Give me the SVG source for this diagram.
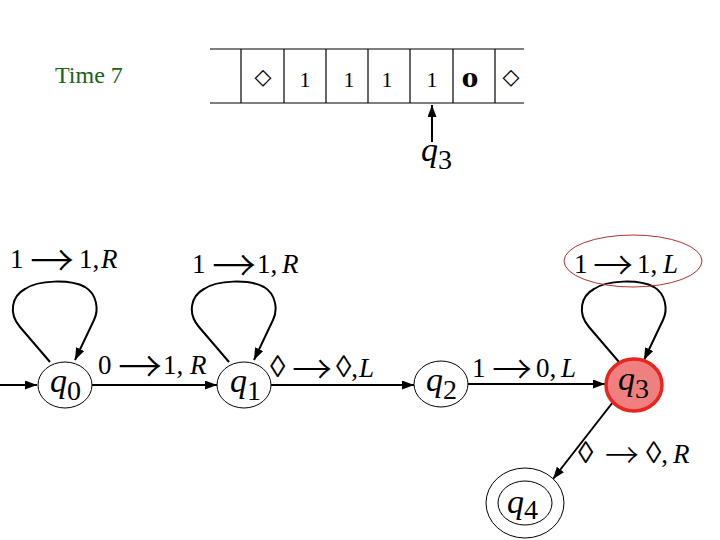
<svg xmlns="http://www.w3.org/2000/svg" width="720" height="540" viewBox="0 0 720 540">
<style>
.lbl{font-family:"Liberation Serif","Times New Roman",serif;font-size:27px;fill:#000}
.it{font-style:italic}
.ar{font-family:"Noto Sans CJK SC",sans-serif;font-size:44px;font-weight:300}
.ar2{font-family:"Noto Sans CJK SC",sans-serif;font-size:40px;font-weight:300}
.ar3{font-family:"Noto Sans CJK SC",sans-serif;font-size:34px;font-weight:300}
.lz{font-size:31px}
.st{font-family:"Liberation Serif","Times New Roman",serif;font-size:34px;font-style:italic;fill:#000}
.sub{font-style:normal;font-size:28px}
.cell{font-family:"Liberation Serif","Times New Roman",serif;font-size:22px;fill:#000;text-anchor:middle}
.dia{font-family:"DejaVu Sans",sans-serif;font-size:22px;fill:#000;text-anchor:middle}
.edge{fill:none;stroke:#000;stroke-width:2}
.node{fill:#fff;stroke:#000;stroke-width:1}
</style>
<defs>
<marker id="ah" markerUnits="userSpaceOnUse" markerWidth="13" markerHeight="10" refX="12" refY="4.5" orient="auto">
<path d="M0,0 L12,4.5 L0,9 z" fill="#000"/>
</marker>
</defs>
<rect width="720" height="540" fill="#fff"/>

<g id="title">
<text x="55" y="83" font-family="Liberation Serif,Times New Roman,serif" font-size="24" fill="#206020">Time 7</text>
</g>

<g id="tape" stroke="#000" stroke-width="1.2">
<line x1="210" y1="49" x2="524" y2="49"/>
<line x1="210" y1="103" x2="524" y2="103"/>
<line x1="241" y1="49" x2="241" y2="103"/>
<line x1="284" y1="49" x2="284" y2="103"/>
<line x1="326" y1="49" x2="326" y2="103"/>
<line x1="368" y1="49" x2="368" y2="103"/>
<line x1="410" y1="49" x2="410" y2="103"/>
<line x1="453" y1="49" x2="453" y2="103"/>
<line x1="495" y1="49" x2="495" y2="103"/>
</g>
<g id="tape-cells">
<text class="dia" x="263" y="84">◇</text>
<text class="cell" x="305" y="87">1</text>
<text class="cell" x="349" y="87">1</text>
<text class="cell" x="387" y="87">1</text>
<text class="cell" x="432" y="87">1</text>
<text class="cell" x="470" y="87" font-weight="bold" textLength="17" lengthAdjust="spacingAndGlyphs">0</text>
<text class="dia" x="511" y="84">◇</text>
</g>
<g id="head">
<line class="edge" x1="432" y1="142" x2="432" y2="105" marker-end="url(#ah)"/>
<text class="st" x="421" y="161">q<tspan class="sub" dy="8">3</tspan></text>
</g>

<g id="connectors">
<line class="edge" x1="0" y1="385" x2="37" y2="385" marker-end="url(#ah)"/>
<line class="edge" x1="92" y1="385" x2="217" y2="385" marker-end="url(#ah)"/>
<line class="edge" x1="271" y1="385" x2="414" y2="385" marker-end="url(#ah)"/>
<line class="edge" x1="468" y1="384" x2="605" y2="384" marker-end="url(#ah)"/>
<line class="edge" x1="613" y1="402" x2="553" y2="479" marker-end="url(#ah)"/>
<path class="edge" d="M50,362 L20,327 C8,313 12,296 25,289 C38,280 70,279 85,287 C97,294 99,310 94,320 L75,360" marker-end="url(#ah)"/>
<path class="edge" transform="translate(179,0)" d="M50,362 L20,327 C8,313 12,296 25,289 C38,280 70,279 85,287 C97,294 99,310 94,320 L75,360" marker-end="url(#ah)"/>
<path class="edge" transform="translate(569,0)" d="M50,362 L20,327 C8,313 12,296 25,289 C38,280 70,279 85,287 C97,294 99,310 94,320 L75,360" marker-end="url(#ah)"/>
</g>

<g id="labels">
<text class="lbl" y="268"><tspan x="10">1</tspan><tspan x="30" class="ar" dy="9">→</tspan><tspan x="79" dy="-9">1,</tspan><tspan x="101" class="it">R</tspan></text>
<text class="lbl" y="273"><tspan x="192">1</tspan><tspan x="212" class="ar" dy="9">→</tspan><tspan x="257" dy="-9">1,</tspan><tspan x="282" class="it">R</tspan></text>
<text class="lbl" y="374"><tspan x="98">0</tspan><tspan x="118" class="ar" dy="9">→</tspan><tspan x="163" dy="-9">1,</tspan><tspan x="190" class="it">R</tspan></text>
<text class="lbl" y="377"><tspan x="270" class="lz">◊</tspan><tspan x="292" class="ar2" dy="7">→</tspan><tspan x="336" class="lz" dy="-7">◊</tspan><tspan>,</tspan><tspan x="359" class="it">L</tspan></text>
<text class="lbl" y="377"><tspan x="472">1</tspan><tspan x="492" class="ar2" dy="7">→</tspan><tspan x="536" dy="-7">0,</tspan><tspan x="561" class="it">L</tspan></text>
<text class="lbl" y="273"><tspan x="574">1</tspan><tspan x="593" class="ar2" dy="7">→</tspan><tspan x="637" dy="-7">1,</tspan><tspan x="663" class="it">L</tspan></text>
<text class="lbl" y="463"><tspan x="578" class="lz">◊</tspan><tspan x="605" class="ar3" dy="5">→</tspan><tspan x="646" class="lz" dy="-5">◊</tspan><tspan>,</tspan><tspan x="673" class="it">R</tspan></text>
<ellipse cx="633" cy="261" rx="69" ry="26" fill="none" stroke="#b03030" stroke-width="1"/>
</g>

<g id="q0">
<ellipse class="node" cx="65" cy="385" rx="27" ry="23"/>
<text class="st" x="50" y="392">q<tspan class="sub" dy="8">0</tspan></text>
</g>
<g id="q1">
<ellipse class="node" cx="244" cy="385" rx="27" ry="23"/>
<text class="st" x="230" y="392">q<tspan class="sub" dy="8">1</tspan></text>
</g>
<g id="q2">
<ellipse class="node" cx="441" cy="384" rx="27" ry="23"/>
<text class="st" x="426" y="391">q<tspan class="sub" dy="8">2</tspan></text>
</g>
<g id="q3">
<ellipse cx="634" cy="385" rx="28" ry="26" fill="#f08080" stroke="#e8251f" stroke-width="3.5"/>
<text class="st" x="618" y="390">q<tspan class="sub" dy="8">3</tspan></text>
</g>
<g id="q4">
<ellipse class="node" cx="525" cy="503" rx="39" ry="35"/>
<ellipse class="node" cx="525" cy="503" rx="27" ry="22"/>
<text class="st" x="507" y="513">q<tspan class="sub" dy="6">4</tspan></text>
</g>
</svg>
